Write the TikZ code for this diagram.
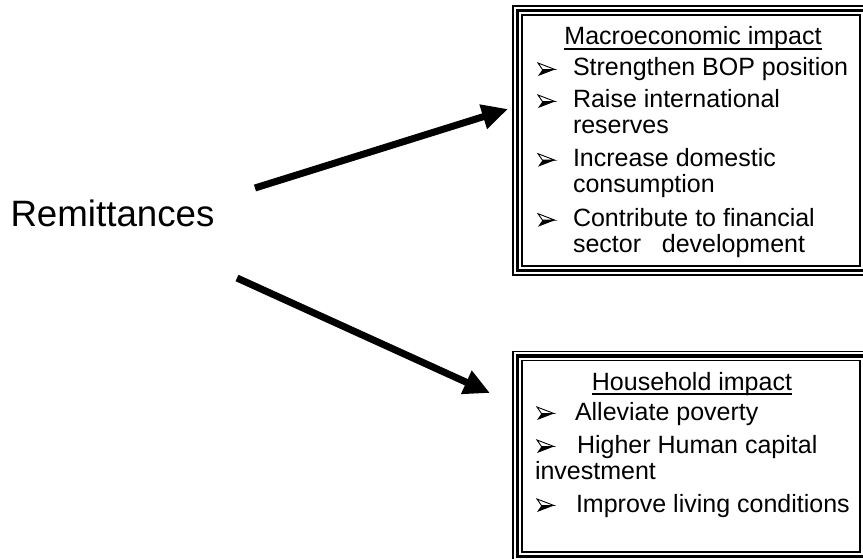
\documentclass[tikz,border=0pt]{standalone}
\usepackage{fontspec}
\setmainfont{Liberation Sans}
\usetikzlibrary{arrows.meta,calc}
\begin{document}
\begin{tikzpicture}[x=1pt,y=-1pt,
 txt/.style={inner sep=0pt, outer sep=0pt, anchor=base west, font=\fontsize{25}{30}\selectfont},
 ttl/.style={inner sep=0pt, outer sep=0pt, anchor=base, font=\fontsize{25}{30}\selectfont},
 inbox/.style={draw, line width=1.3pt, inner sep=0pt, outer sep=0pt, minimum width=338pt},
 midline/.style={line width=3.5pt},
 outline/.style={line width=1.3pt},
 bigarrow/.style={line width=7pt, line cap=butt, -{Triangle[length=26pt,width=24pt]}},
 bulletpic/.pic={
   \draw[line width=0.9pt, fill=white, line join=miter] (0,-13)--(17,-6.5)--(4.5,-6.5)--cycle;
   \fill (4.5,-6.5)--(17,-6.5)--(0,0)--cycle;}
]
\useasboundingbox (0,0) rectangle (863,559);
\clip (0,0) rectangle (863,559);

% Remittances
\node[inner sep=0pt, outer sep=0pt, anchor=base west, font=\fontsize{36.7}{44}\selectfont] (rem) at (10.5,226.7) {Remittances};

% Macroeconomic box
\node[inbox, minimum height=251pt] (macro) at (691,140.5) {};
\draw[midline] ($(macro.north west)+(-4.5,-4.5)$) rectangle ($(macro.south east)+(4.5,4.5)$);
\draw[outline] ($(macro.north west)+(-9,-9)$) rectangle ($(macro.south east)+(9,9)$);

\node[ttl] (mt) at (693,45) {Macroeconomic impact};
\draw[line width=1.4pt] ([yshift=-4pt]mt.base west) -- ([yshift=-4pt]mt.base east);
\pic at (538,76) {bulletpic};
\node[txt] (m1) at (573,76) {Strengthen BOP position};
\pic at (538,108) {bulletpic};
\node[txt] (m2a) at (573,108) {Raise international};
\node[txt] (m2b) at (573,134) {reserves};
\pic at (538,166.7) {bulletpic};
\node[txt] (m3a) at (573,166.7) {Increase domestic};
\node[txt] (m3b) at (573,193) {consumption};
\pic at (538,226.7) {bulletpic};
\node[txt] (m4a) at (573,226.7) {Contribute to financial};
\node[txt] (m4b) at (573,253) {sector\ \ \ development};

% Household box
\node[inbox, minimum height=191.5pt] (house) at (691,456.25) {};
\draw[midline] ($(house.north west)+(-4.5,-4.5)$) rectangle ($(house.south east)+(4.5,4.5)$);
\draw[outline] ($(house.north west)+(-9,-9)$) rectangle ($(house.south east)+(9,9)$);

\node[ttl] (ht) at (692,390) {Household impact};
\draw[line width=1.4pt] ([yshift=-4pt]ht.base west) -- ([yshift=-4pt]ht.base east);
\pic at (537,420) {bulletpic};
\node[txt] (h1) at (575,420) {Alleviate poverty};
\pic at (537,453) {bulletpic};
\node[txt] (h2a) at (577,453) {Higher Human capital};
\node[txt] (h2b) at (535,479) {investment};
\pic at (537,512) {bulletpic};
\node[txt] (h3) at (576,512) {Improve living conditions};

% Arrows
\coordinate (a1s) at (255,188);
\coordinate (a1e) at (508,109);
\coordinate (a2s) at (237,278);
\coordinate (a2e) at (490,393);
\draw[bigarrow] (a1s) -- (a1e);
\draw[bigarrow] (a2s) -- (a2e);
\end{tikzpicture}
\end{document}
